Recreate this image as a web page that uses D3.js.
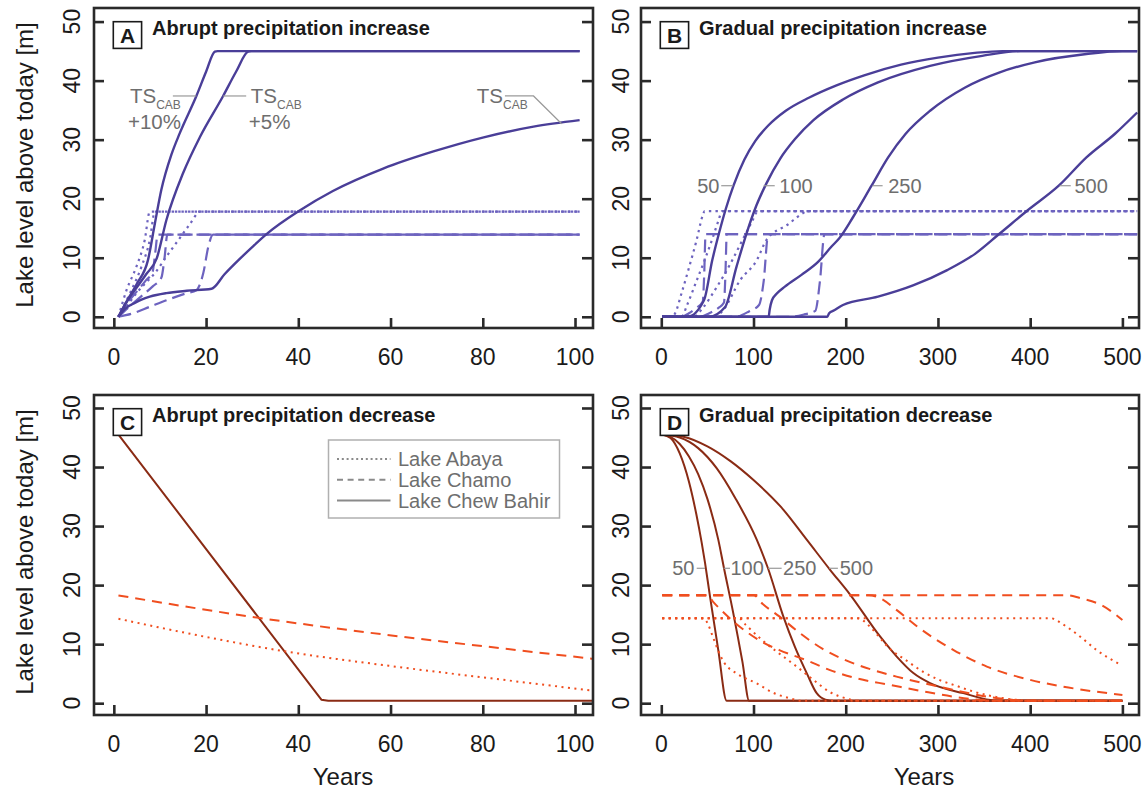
<!DOCTYPE html>
<html>
<head>
<meta charset="utf-8">
<script src="https://cdn.jsdelivr.net/npm/d3@7"></script>
<style>
  html, body { margin: 0; padding: 0; background: #ffffff; }
  svg { display: block; font-family: "Liberation Sans", Arial, Helvetica, sans-serif; }
</style>
</head>
<body>
<svg id="chart" width="1147" height="793"></svg>
<script>
// ---------- tick values ----------
const xTicksAbrupt  = [0, 20, 40, 60, 80, 100];
const xTicksGradual = [0, 100, 200, 300, 400, 500];
const yTicksLevel   = [0, 10, 20, 30, 40, 50];

// ---------- A: abrupt precipitation increase  [year, lake level m] ----------
const aChewBahirBase = [[1,0],[2,1],[3,1.7],[4.2,2.2],[6,2.9],[7.8,3.4],[11.4,4.0],[15.8,4.4],[21.2,4.75],[24,7.2],[27.3,9.8],[30,11.8],[33.1,14],[40.3,18],[47.5,21.3],[58.4,25.1],[69.3,28.0],[80.2,30.4],[91,32.2],[101,33.3]];
const aChewBahir5    = [[1,0],[3,2.8],[5,5],[7,7.2],[9.3,9.9],[11.4,16.4],[15,24.3],[18.7,30.5],[23.7,37.4],[26.5,41.5],[29.1,44.9],[29.8,45],[101,45]];
const aChewBahir10   = [[1,0],[3,2.9],[5,5.6],[7.4,9.6],[8.9,15.8],[10.3,21.5],[12.5,27.5],[14.3,31.1],[17.9,37.4],[20,41.5],[21.9,44.9],[22.5,45],[101,45]];
const aAbayaBase     = [[1,0],[3,2],[4.9,4],[6.5,5.4],[8.9,7.4],[11.4,10.2],[14,13],[16.5,15.7],[18.7,17.8],[101,17.8]];
const aAbaya5        = [[1,0],[3.5,4],[6,8.5],[7.8,13],[8.9,17.8],[101,17.8]];
const aAbaya10       = [[1,0],[2.75,4.5],[4.9,8.5],[6.7,13],[7.8,17.8],[101,17.8]];
const aChamoBase     = [[1,0],[4.2,0.6],[7.8,1.7],[11.4,2.8],[15.8,4.0],[17.9,4.5],[19.4,7.4],[20.5,11.9],[21.5,13.9],[101,13.9]];
const aChamo5        = [[1,0],[3.5,1.8],[6,3.5],[8.5,5.2],[10.3,6.6],[11,10],[11.6,13.9],[101,13.9]];
const aChamo10       = [[1,0],[3,2.4],[5,4.3],[7,6.2],[8.4,7.6],[9,11],[9.5,13.9],[101,13.9]];

// ---------- B: gradual precipitation increase (50, 100, 250, 500 yr) ----------
const bChewBahir50  = [[1,0],[28.4,0],[46.3,2.8],[55.3,9.6],[62.5,14.1],[70,18.3],[78.5,22.3],[90,26.6],[102,29.8],[116,32.4],[135,34.9],[160,37.1],[190,39.2],[220,40.9],[260,42.7],[300,43.9],[340,44.7],[370,45],[516,45]];
const bChewBahir100 = [[1,0],[51.7,0],[69,1.6],[81.6,8.5],[92.4,14.1],[103,18.8],[114,22.6],[129,26.8],[145,30.1],[165,33.3],[197,36.8],[235,39.7],[291.5,42.5],[348,44.2],[390,45],[516,45]];
const bChewBahir250 = [[1,0],[116.4,0],[117.5,1.2],[120,2.8],[125,3.9],[134,5.1],[152,7.1],[170,9.3],[184.6,11.9],[193,13.3],[208,16.9],[228,22.2],[246,27],[265,31],[291.5,34.9],[329,38.8],[367,41.4],[405,43.1],[461,44.5],[500,45],[516,45]];
const bChewBahir500 = [[1,0],[180,0],[182,0.6],[187.5,1.1],[197,2.0],[235,3.4],[273,5.3],[310,7.9],[340.6,10.7],[367,14.1],[397,18.0],[431,22.2],[461,27],[492,31],[516,34.6]];
const bAbaya50  = [[1,0],[12,0],[15,0.6],[22,4],[30,8.3],[38,12.8],[45,17.2],[47,17.9],[516,17.9]];
const bAbaya100 = [[1,0],[22,0],[28,2],[38,6],[48,10],[56,13.5],[62,16.3],[66,17.9],[516,17.9]];
const bAbaya250 = [[1,0],[35,0],[45,1.5],[60,5],[75,9],[88,13],[98,16],[105,17.9],[516,17.9]];
const bAbaya500 = [[1,0],[58,0],[67,1.1],[85.5,6.2],[103.6,9.6],[114,13],[136,15.5],[161,17.9],[516,17.9]];
const bChamo50  = [[1,0],[22,0],[30,0.6],[38,1.5],[45,2.6],[46.5,7],[48,14],[516,14]];
const bChamo100 = [[1,0],[42,0],[52,0.6],[62,1.5],[68,2.4],[69.5,7],[71,14],[516,14]];
const bChamo250 = [[1,0],[80,0],[95,0.9],[106,2],[111,6],[116,14],[516,14]];
const bChamo500 = [[1,0],[140,0],[155,0.4],[167,1],[172,6],[177,14],[516,14]];

// ---------- C: abrupt precipitation decrease ----------
const cChewBahir = [[1,45.5],[45,0.6],[46.5,0.4],[104,0.4]];
const cChamo     = [[1,18.25],[31,14.5],[62,11.3],[84,9.3],[104,7.5]];
const cAbaya     = [[1,14.3],[15,12],[37,8.8],[62,6.1],[84,4.0],[104,2.1]];

// ---------- D: gradual precipitation decrease (50, 100, 250, 500 yr) ----------
const dChewBahir50  = [[1,45.5],[10,44.9],[20,42.3],[30,37.5],[38,32],[43.8,27.2],[47.4,23.8],[52.8,18.1],[61.8,9.0],[70.9,0.4],[500,0.4]];
const dChewBahir100 = [[1,45.5],[10,45.1],[20,43.9],[30,41.8],[40,38.8],[50,34.6],[61.8,27.7],[68,22.85],[78,15.3],[88,7],[95.3,0.4],[500,0.4]];
const dChewBahir250 = [[1,45.5],[20,45],[40,43.2],[60,39.8],[80,34.8],[103.5,27.7],[115.7,22.85],[132.3,14.7],[145,9.5],[157.7,5.1],[168.5,1.7],[178,0.6],[186.5,0.4],[500,0.4]];
const dChewBahir500 = [[1,45.5],[25,45.1],[50,43.5],[75,41],[100,37.8],[130,33.2],[157.7,27.7],[183,22.6],[204.7,18.4],[237.2,11.3],[255.3,7.9],[273.3,5.1],[291.4,3.4],[327.5,1.7],[363.8,0.45],[500,0.4]];
const dChamo50  = [[1,18.3],[50,18.3],[56,17.2],[66,15.6],[80,13.6],[95,11.8],[110,10.3],[128,9.0],[157,7.3],[183,5.6],[212,4.2],[248,3.1],[284,2.0],[317,1.1],[346,0.56],[370,0.4],[500,0.4]];
const dChamo100 = [[1,18.3],[100,18.3],[110,16.8],[128,14.7],[150,11.9],[175,9.2],[201,7.2],[230,5.6],[255,4.5],[284,3.4],[317,2.25],[353,1.1],[382,0.56],[400,0.4],[500,0.4]];
const dChamo250 = [[1,18.3],[225,18.3],[237,17.8],[255,15.8],[280,12.7],[317,9.0],[353,6.2],[400,3.95],[436,2.8],[500,1.4]];
const dChamo500 = [[1,18.3],[440,18.3],[454,17.8],[476,16.7],[500,14.1]];
const dAbaya50  = [[1,14.4],[46,14.4],[50,13.6],[55.8,11.3],[62,8.8],[68.5,6.8],[81,5.1],[103,3.4],[121,1.8],[140,0.8],[152,0.4],[500,0.4]];
const dAbaya100 = [[1,14.4],[84,14.4],[92,13.2],[110,10.6],[128,8.4],[146,6.3],[164.5,4],[182.6,1.9],[200.7,0.8],[215,0.4],[500,0.4]];
const dAbaya250 = [[1,14.4],[212,14.4],[219,14],[226,13],[248,9.2],[266,7.2],[284,5.3],[302,3.9],[317,3.1],[340,1.9],[365,1.0],[390,0.5],[400,0.4],[500,0.4]];
const dAbaya500 = [[1,14.4],[422,14.4],[436,13.3],[454,11.3],[472,9.0],[498,6.5]];

// ---------- legend + annotation labels ----------
const legendLabels = ["Lake Abaya", "Lake Chamo", "Lake Chew Bahir"];
const durationLabelsB = [
  { text: "50",  side: "left",  leader: [[65,22.2],[78,22.2]],   at: [63,22.2] },
  { text: "100", side: "right", leader: [[111,22.2],[123,22.2]], at: [128,22.2] },
  { text: "250", side: "right", leader: [[229,22.2],[240,22.2]], at: [246,22.2] },
  { text: "500", side: "right", leader: [[432,22.2],[444,22.2]], at: [448,22.2] }
];
const durationLabelsD = [
  { text: "50",  side: "left",  leader: [[38.4,22.85],[47.4,22.85]],  at: [36,22.85] },
  { text: "100", side: "right", leader: [[67.5,22.85],[74.5,22.85]],  at: [75,22.85] },
  { text: "250", side: "right", leader: [[115.7,22.85],[130.5,22.85]], at: [132,22.85] },
  { text: "500", side: "right", leader: [[182,22.85],[191.5,22.85]],  at: [193.5,22.85] }
];
const tsLabelsA = [
  { extra: "+10%", at: [3.5,36.2],  leader: [[12.8,37.4],[17.9,37.4]] },
  { extra: "+5%",  at: [29.7,36.2], leader: [[23.7,37.4],[28.7,37.4]] },
  { extra: "",     at: [78.7,36.2], leader: [[84.8,37.4],[91,37.4],[97.1,32.7]] }
];

// ---------- styling ----------
const COL = {
  incSolid: "#4a3e98", incLight: "#6d63bf",
  decSolid: "#8a2b14", decLight: "#f04e1f",
  frame: "#2a2a2a", text: "#1a1a1a", note: "#6e6e6e", leader: "#9a9a9a", legend: "#8a8a8a"
};
const DASH_TOP = "13,6", DOT_TOP = "2.4,4.2";
const DASH_BOT = "10,7", DOT_BOT = "2,4.5";

const smooth = d3.curveMonotoneX, straight = d3.curveLinear;
const solidTop = (d, c = smooth) => ({ data: d, color: COL.incSolid, width: 2.4, dash: null, curve: c });
const dashTop  = (d, c = smooth) => ({ data: d, color: COL.incLight, width: 2.2, dash: DASH_TOP, curve: c });
const dotTop   = (d, c = smooth) => ({ data: d, color: COL.incLight, width: 2.2, dash: DOT_TOP, curve: c });
const solidBot = (d, c = smooth) => ({ data: d, color: COL.decSolid, width: 2.0, dash: null, curve: c });
const dashBot  = (d, c = smooth) => ({ data: d, color: COL.decLight, width: 2.0, dash: DASH_BOT, curve: c });
const dotBot   = (d, c = smooth) => ({ data: d, color: COL.decLight, width: 2.0, dash: DOT_BOT, curve: c });

const panels = [
  { letter: "A", title: "Abrupt precipitation increase",
    left: 94, right: 593, top: 8, bottom: 328, xDomain: [-4.3, 103.9], yDomain: [-1.9, 52.3],
    xTicks: xTicksAbrupt, yLabelOff: 22,
    series: [dotTop(aAbayaBase), dotTop(aAbaya5), dotTop(aAbaya10),
             dashTop(aChamoBase), dashTop(aChamo5), dashTop(aChamo10),
             solidTop(aChewBahirBase), solidTop(aChewBahir5), solidTop(aChewBahir10)] },
  { letter: "B", title: "Gradual precipitation increase",
    left: 641, right: 1139, top: 8, bottom: 328, xDomain: [-22, 518], yDomain: [-1.9, 52.3],
    xTicks: xTicksGradual, yLabelOff: 20,
    series: [dotTop(bAbaya50), dotTop(bAbaya100), dotTop(bAbaya250), dotTop(bAbaya500),
             dashTop(bChamo50), dashTop(bChamo100), dashTop(bChamo250), dashTop(bChamo500),
             solidTop(bChewBahir50), solidTop(bChewBahir100), solidTop(bChewBahir250), solidTop(bChewBahir500)] },
  { letter: "C", title: "Abrupt precipitation decrease",
    left: 94, right: 593, top: 395, bottom: 715, xDomain: [-4.3, 103.9], yDomain: [-2.0, 52.2],
    xTicks: xTicksAbrupt, yLabelOff: 22,
    series: [solidBot(cChewBahir, straight), dashBot(cChamo), dotBot(cAbaya)] },
  { letter: "D", title: "Gradual precipitation decrease",
    left: 641, right: 1139, top: 395, bottom: 715, xDomain: [-22, 518], yDomain: [-2.0, 52.2],
    xTicks: xTicksGradual, yLabelOff: 20,
    series: [solidBot(dChewBahir50), solidBot(dChewBahir100), solidBot(dChewBahir250), solidBot(dChewBahir500),
             dashBot(dChamo50), dashBot(dChamo100), dashBot(dChamo250), dashBot(dChamo500),
             dotBot(dAbaya50), dotBot(dAbaya100), dotBot(dAbaya250), dotBot(dAbaya500)] }
];

const svg = d3.select("#chart");
svg.append("rect").attr("width", 1147).attr("height", 793).attr("fill", "#ffffff");

function styleTicks(sel) {
  sel.select(".domain").remove();
  sel.selectAll(".tick line").attr("stroke", COL.frame).attr("stroke-width", 2.6);
}

panels.forEach(p => {
  const x = d3.scaleLinear().domain(p.xDomain).range([p.left, p.right]);
  const y = d3.scaleLinear().domain(p.yDomain).range([p.bottom, p.top]);
  p.x = x; p.y = y;
  const g = svg.append("g").attr("class", "panel-" + p.letter);

  g.append("g").selectAll("path").data(p.series).join("path")
    .attr("d", s => d3.line().x(d => x(d[0])).y(d => y(d[1])).curve(s.curve)(s.data))
    .attr("fill", "none")
    .attr("stroke", s => s.color)
    .attr("stroke-width", s => s.width)
    .attr("stroke-dasharray", s => s.dash)
    .attr("stroke-linejoin", "round");

  // inward ticks on bottom, left and right
  g.append("g").attr("transform", `translate(0,${p.bottom})`)
    .call(d3.axisBottom(x).tickValues(p.xTicks).tickSizeInner(-10).tickSizeOuter(0).tickFormat(""))
    .call(styleTicks);
  g.append("g").attr("transform", `translate(${p.left},0)`)
    .call(d3.axisLeft(y).tickValues(yTicksLevel).tickSizeInner(-10).tickSizeOuter(0).tickFormat(""))
    .call(styleTicks);
  g.append("g").attr("transform", `translate(${p.right},0)`)
    .call(d3.axisRight(y).tickValues(yTicksLevel).tickSizeInner(-11).tickSizeOuter(0).tickFormat(""))
    .call(styleTicks);

  // frame
  g.append("rect").attr("x", p.left).attr("y", p.top)
    .attr("width", p.right - p.left).attr("height", p.bottom - p.top)
    .attr("fill", "none").attr("stroke", COL.frame).attr("stroke-width", 2.6);

  // tick labels
  g.append("g").selectAll("text").data(p.xTicks).join("text")
    .attr("x", d => x(d)).attr("y", p.bottom + 29)
    .attr("text-anchor", "middle").attr("dominant-baseline", "central")
    .attr("font-size", 23).attr("fill", COL.text).text(d => d);
  g.append("g").selectAll("text").data(yTicksLevel).join("text")
    .attr("transform", d => `translate(${p.left - p.yLabelOff},${y(d)}) rotate(-90)`)
    .attr("text-anchor", "middle").attr("dominant-baseline", "central")
    .attr("font-size", 23).attr("fill", COL.text).text(d => d);

  // panel letter box and title
  g.append("rect").attr("x", p.left + 19.3).attr("y", p.top + 13.7)
    .attr("width", 28.3).attr("height", 26.7)
    .attr("fill", "#ffffff").attr("stroke", COL.text).attr("stroke-width", 1.6);
  g.append("text").attr("x", p.left + 33.5).attr("y", p.top + 27.3)
    .attr("text-anchor", "middle").attr("dominant-baseline", "central")
    .attr("font-size", 21).attr("font-weight", "bold").attr("fill", COL.text).text(p.letter);
  g.append("text").attr("x", p.left + 58).attr("y", p.top + 27)
    .attr("font-size", 20).attr("font-weight", "bold").attr("fill", COL.text).text(p.title);
});

const [pA, pB, pC, pD] = panels;
const leaderLine = (p) => d3.line().x(d => p.x(d[0])).y(d => p.y(d[1]));

// TS_CAB annotations in panel A
tsLabelsA.forEach(t => {
  svg.append("path").attr("d", leaderLine(pA)(t.leader))
    .attr("fill", "none").attr("stroke", COL.leader).attr("stroke-width", 1.2);
  const tx = pA.x(t.at[0]), ty = pA.y(t.at[1]);
  const txt = svg.append("text").attr("x", tx).attr("y", ty)
    .attr("font-size", 20.5).attr("fill", COL.note);
  txt.append("tspan").text("TS");
  txt.append("tspan").attr("font-size", 12).attr("dy", 6).text("CAB");
  if (t.extra) {
    svg.append("text").attr("x", tx - 2).attr("y", ty + 26)
      .attr("font-size", 20.5).attr("fill", COL.note).text(t.extra);
  }
});

// duration labels in panels B and D
function durationLabels(p, list) {
  list.forEach(l => {
    svg.append("path").attr("d", leaderLine(p)(l.leader))
      .attr("fill", "none").attr("stroke", COL.leader).attr("stroke-width", 1.2);
    svg.append("text").attr("x", p.x(l.at[0])).attr("y", p.y(l.at[1]))
      .attr("text-anchor", l.side === "left" ? "end" : "start")
      .attr("dominant-baseline", "central")
      .attr("font-size", 20).attr("fill", COL.note).text(l.text);
  });
}
durationLabels(pB, durationLabelsB);
durationLabels(pD, durationLabelsD);

// legend in panel C
const lg = svg.append("g").attr("transform", "translate(328.5,440)");
lg.append("rect").attr("width", 231).attr("height", 78)
  .attr("fill", "#ffffff").attr("stroke", "#b0b0b0").attr("stroke-width", 1.5);
const legendDash = ["2,2.8", "6,4.6", null];
legendLabels.forEach((name, i) => {
  const yy = 19 + i * 20.8;
  lg.append("line").attr("x1", 8.5).attr("x2", 62).attr("y1", yy).attr("y2", yy)
    .attr("stroke", COL.legend).attr("stroke-width", 2)
    .attr("stroke-dasharray", legendDash[i]);
  lg.append("text").attr("x", 69.5).attr("y", yy + 7)
    .attr("font-size", 20).attr("fill", COL.note).text(name);
});

// axis titles
[pA, pC].forEach(p => {
  svg.append("text")
    .attr("transform", `translate(24,${(p.top + p.bottom) / 2 - 3}) rotate(-90)`)
    .attr("text-anchor", "middle").attr("dominant-baseline", "central")
    .attr("font-size", 24).attr("fill", COL.text).text("Lake level above today [m]");
});
svg.append("text").attr("x", 343).attr("y", 785).attr("text-anchor", "middle")
  .attr("font-size", 24).attr("fill", COL.text).text("Years");
svg.append("text").attr("x", 924).attr("y", 785).attr("text-anchor", "middle")
  .attr("font-size", 24).attr("fill", COL.text).text("Years");
</script>
</body>
</html>
